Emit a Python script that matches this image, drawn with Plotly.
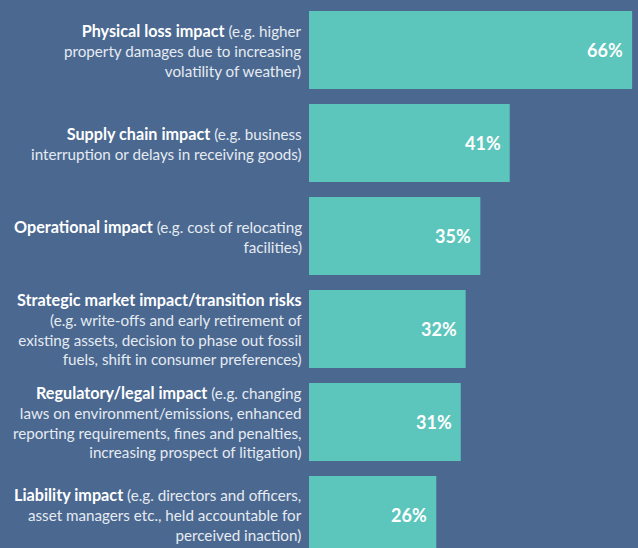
import plotly.graph_objects as go

# Climate-related risk impacts, share of respondents (%)
headlines = [
    "Physical loss impact",
    "Supply chain impact",
    "Operational impact",
    "Strategic market impact/transition risks",
    "Regulatory/legal impact",
    "Liability impact",
]
details = [
    " (e.g. higher<br>property damages due to increasing<br>volatility of weather)",
    " (e.g. business<br>interruption or delays in receiving goods)",
    " (e.g. cost of relocating<br>facilities)",
    "<br>(e.g. write-offs and early retirement of<br>existing assets, decision to phase out fossil<br>fuels, shift in consumer preferences)",
    " (e.g. changing<br>laws on environment/emissions, enhanced<br>reporting requirements, fines and penalties,<br>increasing prospect of litigation)",
    " (e.g. directors and officers,<br>asset managers etc., held accountable for<br>perceived inaction)",
]
values = [66, 41, 35, 32, 31, 26]

BG = "#4a6890"
BAR = "#5cc5bc"
FONT = "Lato"

positions = list(range(len(values)))

fig = go.Figure(
    go.Bar(
        x=values,
        y=positions,
        orientation="h",
        width=0.84,
        marker=dict(color=BAR, line=dict(width=0)),
        hoverinfo="skip",
    )
)

annotations = []
for i, (h, d, v) in enumerate(zip(headlines, details, values)):
    annotations.append(
        dict(
            x=0, y=i, xref="x", yref="y",
            xanchor="right", yanchor="middle", align="right",
            xshift=-5,
            text=f"<b><span style='color:#ffffff;font-size:16.2px'>{h}</span></b>{d}",
            showarrow=False,
            font=dict(family=FONT, size=15.2, color="#e6ebf2"),
        )
    )
    annotations.append(
        dict(
            x=v, y=i, xref="x", yref="y",
            xanchor="right", yanchor="middle",
            xshift=-7,
            text=f"<b>{v}%</b>",
            showarrow=False,
            font=dict(family=FONT, size=18, color="#ffffff"),
        )
    )

fig.update_layout(
    width=638,
    height=548,
    margin=dict(l=309, r=0, t=0, b=0),
    paper_bgcolor=BG,
    plot_bgcolor=BG,
    showlegend=False,
    annotations=annotations,
    xaxis=dict(range=[0, 67.2], visible=False, fixedrange=True),
    yaxis=dict(range=[5.355, -0.538], visible=False, fixedrange=True),
)

fig.write_html("out.html")
